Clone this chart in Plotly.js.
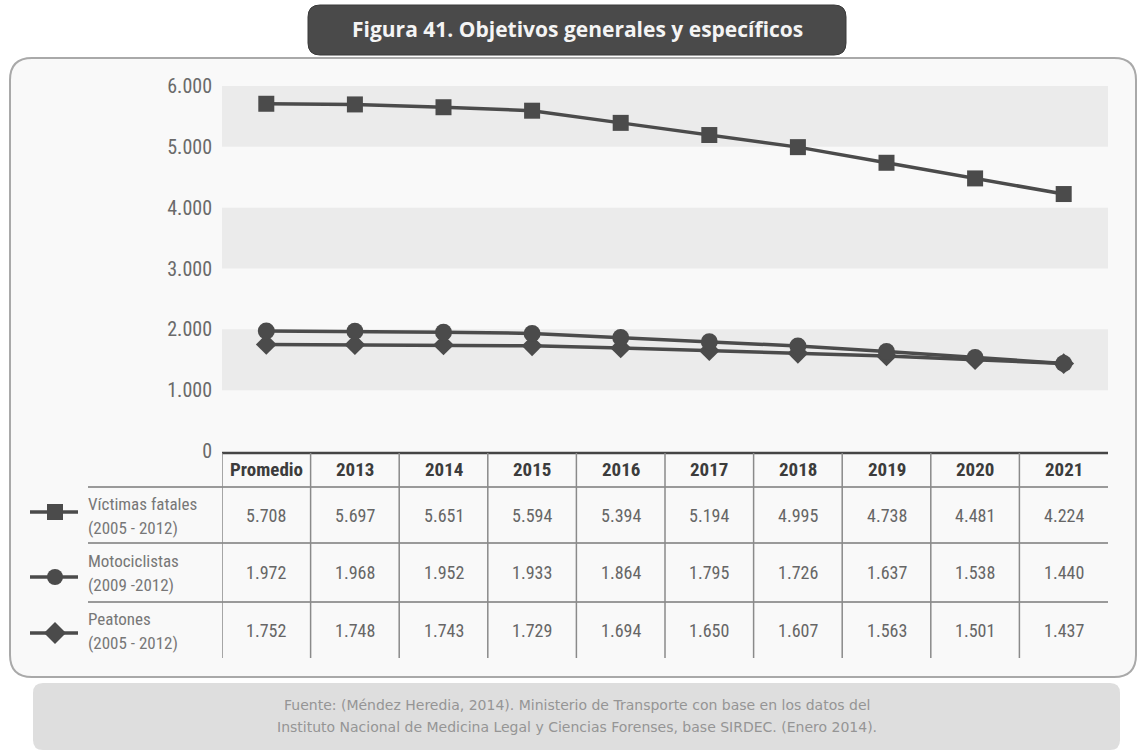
<!DOCTYPE html>
<html>
<head>
<meta charset="utf-8">
<script src="https://cdn.plot.ly/plotly-3.0.1.min.js"></script>
<style>
  html, body { margin: 0; padding: 0; background: #ffffff; }
  #chart { width: 1139px; height: 751px; }
</style>
</head>
<body>
<div id="chart"></div>
<script>
// Road-safety targets: fatalities, motorcyclists and pedestrians per year
const categories = ['Promedio', '2013', '2014', '2015', '2016', '2017', '2018', '2019', '2020', '2021'];
const victimas = [5708, 5697, 5651, 5594, 5394, 5194, 4995, 4738, 4481, 4224];
const motociclistas = [1972, 1968, 1952, 1933, 1864, 1795, 1726, 1637, 1538, 1440];
const peatones = [1752, 1748, 1743, 1729, 1694, 1650, 1607, 1563, 1501, 1437];
const seriesLabels = [
  ['Víctimas fatales', '(2005 - 2012)'],
  ['Motociclistas', '(2009 -2012)'],
  ['Peatones', '(2005 - 2012)']
];
const yTicks = [0, 1000, 2000, 3000, 4000, 5000, 6000];
const bandRanges = [[1000, 2000], [3000, 4000], [5000, 6000]];
const titleText = 'Figura 41. Objetivos generales y específicos';
const sourceLines = [
  'Fuente: (Méndez Heredia, 2014). Ministerio de Transporte con base en los datos del',
  'Instituto Nacional de Medicina Legal y Ciencias Forenses, base SIRDEC. (Enero 2014).'
];

const W = 1139, H = 751;
const X = px => px / W;
const Y = py => 1 - py / H;

const NARROW = '"Roboto Condensed", "Liberation Sans Narrow", "DejaVu Sans Condensed", sans-serif';
const LINE = '#4b4b4b';

function fmt(v) {
  return String(v).replace(/\B(?=(\d{3})+(?!\d))/g, '.');
}

function roundRect(x0, y0, x1, y1, r) {
  const a = X(x0), b = X(x1), c = Y(y0), d = Y(y1);
  const rx = r / W, ry = r / H;
  return `M${a + rx},${c} L${b - rx},${c} Q${b},${c} ${b},${c - ry} ` +
         `L${b},${d + ry} Q${b},${d} ${b - rx},${d} L${a + rx},${d} ` +
         `Q${a},${d} ${a},${d + ry} L${a},${c - ry} Q${a},${c} ${a + rx},${c} Z`;
}

const seriesData = [victimas, motociclistas, peatones];
const symbols = ['square', 'circle', 'diamond'];
const markerSizes = [16, 17, 16];

const traces = seriesData.map((vals, i) => ({
  type: 'scatter',
  mode: 'lines+markers',
  x: categories,
  y: vals,
  name: seriesLabels[i].join(' '),
  line: { color: LINE, width: 3.5 },
  marker: { symbol: symbols[i], size: markerSizes[i], color: LINE, line: { width: 0 } },
  hoverinfo: 'x+y'
}));
// pedestrians drawn first, fatalities last
traces.reverse();

const shapes = [];
const annotations = [];

// outer rounded panel
shapes.push({ type: 'path', xref: 'paper', yref: 'paper', layer: 'below',
  path: roundRect(10, 58, 1136, 677, 22),
  fillcolor: '#f9f9f9', line: { color: '#a9a9a9', width: 2 } });

// footer box
shapes.push({ type: 'path', xref: 'paper', yref: 'paper', layer: 'below',
  path: roundRect(33, 683, 1120, 750, 10),
  fillcolor: '#dedede', line: { width: 0 } });

// title box
shapes.push({ type: 'path', xref: 'paper', yref: 'paper', layer: 'above',
  path: roundRect(308, 5, 846, 55, 12),
  fillcolor: '#4a4a4a', line: { color: '#3a3a3a', width: 1 } });

// horizontal shaded bands
bandRanges.forEach(r => shapes.push({ type: 'rect', xref: 'x', yref: 'y', layer: 'below',
  x0: -0.5, x1: categories.length - 0.5, y0: r[0], y1: r[1],
  fillcolor: '#ebebeb', line: { width: 0 } }));

// data table under the plot
const tableTop = 453, headerBottom = 487, rowBottoms = [543, 602], tableBottom = 658;
const rowCenters = [515, 572, 630];
shapes.push({ type: 'line', xref: 'x', yref: 'paper',
  x0: -0.5, x1: categories.length - 0.5, y0: Y(tableTop), y1: Y(tableTop),
  line: { color: '#454545', width: 2.5 } });
[headerBottom].concat(rowBottoms).forEach(py => shapes.push({ type: 'line', xref: 'paper', yref: 'paper',
  x0: X(88), x1: X(1108), y0: Y(py), y1: Y(py),
  line: { color: '#7a7a7a', width: 1.5 } }));
categories.forEach((c, i) => shapes.push({ type: 'line', xref: 'x', yref: 'paper',
  x0: i - 0.5, x1: i - 0.5, y0: Y(tableTop), y1: Y(tableBottom),
  line: { color: '#8a8a8a', width: 1.5 } }));

// header cells (category index positions on the x axis)
categories.forEach((c, i) => annotations.push({ xref: 'x', yref: 'paper', x: i, y: Y(470),
  text: '<b>' + c + '</b>', showarrow: false, xanchor: 'center', yanchor: 'middle',
  font: { family: NARROW, size: 19, color: '#3c3c3c' } }));

seriesData.forEach((vals, r) => {
  vals.forEach((v, i) => annotations.push({ xref: 'x', yref: 'paper', x: i, y: Y(rowCenters[r]),
    text: fmt(v), showarrow: false, xanchor: 'center', yanchor: 'middle',
    font: { family: NARROW, size: 18, color: '#666666' } }));
  // row legend label
  annotations.push({ xref: 'paper', yref: 'paper', x: X(86), y: Y(rowCenters[r] - 11),
    text: seriesLabels[r][0], showarrow: false, xanchor: 'left', yanchor: 'middle',
    font: { family: NARROW, size: 17, color: '#777777' } });
  annotations.push({ xref: 'paper', yref: 'paper', x: X(86), y: Y(rowCenters[r] + 13),
    text: seriesLabels[r][1], showarrow: false, xanchor: 'left', yanchor: 'middle',
    font: { family: NARROW, size: 17, color: '#777777' } });
});

// legend keys (line with marker) in the first column
const keyY = [512, 577, 633];
keyY.forEach((py, r) => {
  shapes.push({ type: 'line', xref: 'paper', yref: 'paper', x0: X(30), x1: X(78), y0: Y(py), y1: Y(py),
    line: { color: LINE, width: 3.5 } });
  const cx = 55;
  if (r === 0) {
    shapes.push({ type: 'rect', xref: 'paper', yref: 'paper', x0: X(cx - 8), x1: X(cx + 8), y0: Y(py - 8), y1: Y(py + 8),
      fillcolor: LINE, line: { width: 0 } });
  } else if (r === 1) {
    shapes.push({ type: 'circle', xref: 'paper', yref: 'paper', x0: X(cx - 8), x1: X(cx + 8), y0: Y(py - 8), y1: Y(py + 8),
      fillcolor: LINE, line: { width: 0 } });
  } else {
    shapes.push({ type: 'path', xref: 'paper', yref: 'paper',
      path: `M${X(cx - 11)},${Y(py)} L${X(cx)},${Y(py - 11)} L${X(cx + 11)},${Y(py)} L${X(cx)},${Y(py + 11)} Z`,
      fillcolor: LINE, line: { width: 0 } });
  }
});

// title text
annotations.push({ xref: 'paper', yref: 'paper', x: X(577), y: Y(29), text: '<b>' + titleText + '</b>',
  showarrow: false, xanchor: 'center', yanchor: 'middle',
  font: { family: '"Open Sans", "Noto Sans", sans-serif', size: 21, color: '#f4f4f4' } });

// source lines
sourceLines.forEach((t, i) => annotations.push({ xref: 'paper', yref: 'paper', x: X(577), y: Y(705 + i * 22),
  text: t, showarrow: false, xanchor: 'center', yanchor: 'middle',
  font: { family: '"DejaVu Sans", sans-serif', size: 14, color: '#959595' } }));

const layout = {
  width: W, height: H,
  margin: { l: 0, r: 0, t: 0, b: 0, pad: 0 },
  paper_bgcolor: '#ffffff',
  plot_bgcolor: 'rgba(0,0,0,0)',
  showlegend: false,
  separators: ',.',
  xaxis: {
    type: 'category', categoryorder: 'array', categoryarray: categories,
    domain: [X(222), X(1108)], range: [-0.5, categories.length - 0.5],
    showticklabels: false, showgrid: false, zeroline: false, showline: false, ticks: '', fixedrange: true
  },
  yaxis: {
    domain: [Y(451), Y(86)], range: [0, 6000],
    tickvals: yTicks, tickformat: ',d', ticks: '', ticklabelstandoff: 9,
    showgrid: false, zeroline: false, showline: false, fixedrange: true,
    tickfont: { family: NARROW, size: 20, color: '#6a6a6a' }
  },
  shapes: shapes,
  annotations: annotations
};

Plotly.newPlot('chart', traces, layout, { displayModeBar: false, staticPlot: true });
</script>
</body>
</html>
